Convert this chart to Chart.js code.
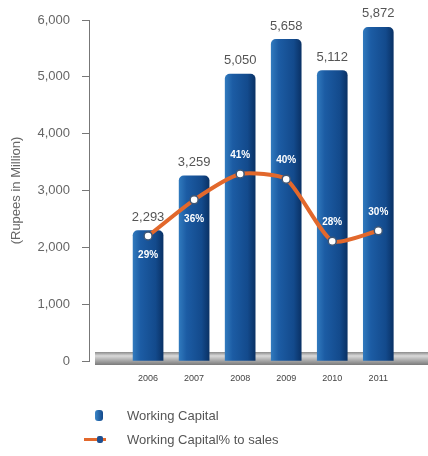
<!DOCTYPE html>
<html lang="en">
<head>
    <meta charset="UTF-8">
    <title>Working Capital</title>
    <script src="https://cdn.jsdelivr.net/npm/chart.js"></script>
    <style>
        html, body { margin: 0; padding: 0; background: #fff; }
        #wrap { position: relative; width: 428px; height: 456px; font-family: "Liberation Sans", Arial, sans-serif; }
        #chart { position: absolute; left: 0; top: 0; }
        .lg { position: absolute; left: 127px; font-size: 13px; color: #555; line-height: 16px; }
        .sw { position: absolute; }
    </style>
</head>
<body>
<div id="wrap">
    <canvas id="chart" width="428" height="456"></canvas>
    <!-- legend -->
    <div class="sw" style="left:95px; top:410px; width:8px; height:11px; border-radius:3px; background:linear-gradient(90deg,#3b86c8,#12488a);"></div>
    <div class="lg" style="top:408px;">Working Capital</div>
    <div class="sw" style="left:84px; top:438px; width:22px; height:3px; background:#e2682c;"></div>
    <div class="sw" style="left:97px; top:436px; width:6px; height:7px; border-radius:2px; background:#1e4f8f;"></div>
    <div class="lg" style="top:432px;">Working Capital% to sales</div>
</div>
<script>
    const years = [2006, 2007, 2008, 2009, 2010, 2011];
    const capital = [2293, 3259, 5050, 5658, 5112, 5872];
    const capitalPct = [29, 36, 41, 40, 28, 30];

    // which side of the point each % label sits on
    const pctSide = [1, 1, -1, -1, -1, -1];

    // grey "floor" bar along the zero line
    const floorPlugin = {
        id: 'floor',
        beforeDatasetsDraw(chart) {
            const c = chart.ctx;
            const y0 = chart.scales.y.getPixelForValue(0);
            const x1 = chart.chartArea.left + 6;
            const g = c.createLinearGradient(0, y0 - 9, 0, y0 + 4);
            g.addColorStop(0, '#8a8a8a');
            g.addColorStop(0.3, '#dadada');
            g.addColorStop(0.6, '#b0b0b0');
            g.addColorStop(1, '#7a7a7a');
            c.save();
            c.fillStyle = g;
            c.fillRect(x1, y0 - 9, chart.width - x1, 13);
            c.restore();
        }
    };

    // value labels above bars and % labels beside the line points
    const labelPlugin = {
        id: 'labels',
        afterDatasetsDraw(chart) {
            const c = chart.ctx;
            c.save();
            c.textAlign = 'center';
            c.font = '13px "Liberation Sans", Arial, sans-serif';
            c.fillStyle = '#555';
            c.textBaseline = 'bottom';
            chart.getDatasetMeta(0).data.forEach((bar, i) => {
                c.fillText(capital[i].toLocaleString('en-US'), bar.x, bar.y - 7);
            });
            c.font = 'bold 10px "Liberation Sans", Arial, sans-serif';
            c.fillStyle = '#fff';
            c.textBaseline = 'middle';
            chart.getDatasetMeta(1).data.forEach((pt, i) => {
                c.fillText(capitalPct[i] + '%', pt.x, pt.y + pctSide[i] * 19);
            });
            c.restore();
        }
    };

    // left-to-right shading across each bar
    function barFill(ctx) {
        const chart = ctx.chart;
        const xs = chart.scales.x;
        const x = xs && ctx.dataIndex !== undefined ? xs.getPixelForValue(years[ctx.dataIndex]) : NaN;
        if (!isFinite(x)) return '#1a579c';
        const g = chart.ctx.createLinearGradient(x - 15, 0, x + 15, 0);
        g.addColorStop(0, '#3079bd');
        g.addColorStop(0.25, '#1c5ca4');
        g.addColorStop(0.75, '#134a8c');
        g.addColorStop(1, '#0a3266');
        return g;
    }

    new Chart(document.getElementById('chart'), {
        data: {
            datasets: [{
                type: 'bar',
                label: 'Working Capital',
                data: years.map((yr, i) => ({ x: yr, y: capital[i] })),
                backgroundColor: barFill,
                barThickness: 30,
                borderRadius: { topLeft: 5, topRight: 5 },
                order: 1
            }, {
                type: 'line',
                label: 'Working Capital% to sales',
                data: years.map((yr, i) => ({ x: yr, y: capitalPct[i] })),
                yAxisID: 'y2',
                borderColor: '#e2682c',
                borderWidth: 4,
                tension: 0.2,
                pointRadius: 4,
                pointBorderWidth: 1.5,
                pointBackgroundColor: '#fff',
                pointBorderColor: '#3d5676',
                order: 0
            }]
        },
        options: {
            responsive: false,
            animation: false,
            layout: { padding: { top: 20, left: 5, right: 0, bottom: 0 } },
            plugins: { legend: { display: false }, tooltip: { enabled: false } },
            scales: {
                x: {
                    type: 'linear',
                    offset: false,
                    min: 2004.717,
                    max: 2011.96,
                    grid: { display: false, drawTicks: false },
                    border: { display: false },
                    afterBuildTicks: s => { s.ticks = years.map(v => ({ value: v })); },
                    afterFit: s => { s.height = 95; },
                    ticks: {
                        padding: 12,
                        color: '#444',
                        font: { size: 9, family: '"Liberation Sans", Arial, sans-serif' },
                        callback: v => String(v)
                    }
                },
                y: {
                    min: 0,
                    max: 6000,
                    afterFit: s => { s.width = 84; },
                    grid: { drawOnChartArea: false, drawTicks: true, tickLength: 7, color: '#777' },
                    border: { display: true, color: '#777' },
                    ticks: {
                        stepSize: 1000,
                        padding: 12,
                        color: '#666',
                        font: { size: 13, family: '"Liberation Sans", Arial, sans-serif' },
                        callback: v => v.toLocaleString('en-US')
                    },
                    title: {
                        display: true,
                        text: '(Rupees in Million)',
                        color: '#666',
                        font: { size: 13, family: '"Liberation Sans", Arial, sans-serif' }
                    }
                },
                y2: {
                    display: false,
                    min: 4.8,
                    max: 70.8
                }
            }
        },
        plugins: [floorPlugin, labelPlugin]
    });
</script>
</body>
</html>
